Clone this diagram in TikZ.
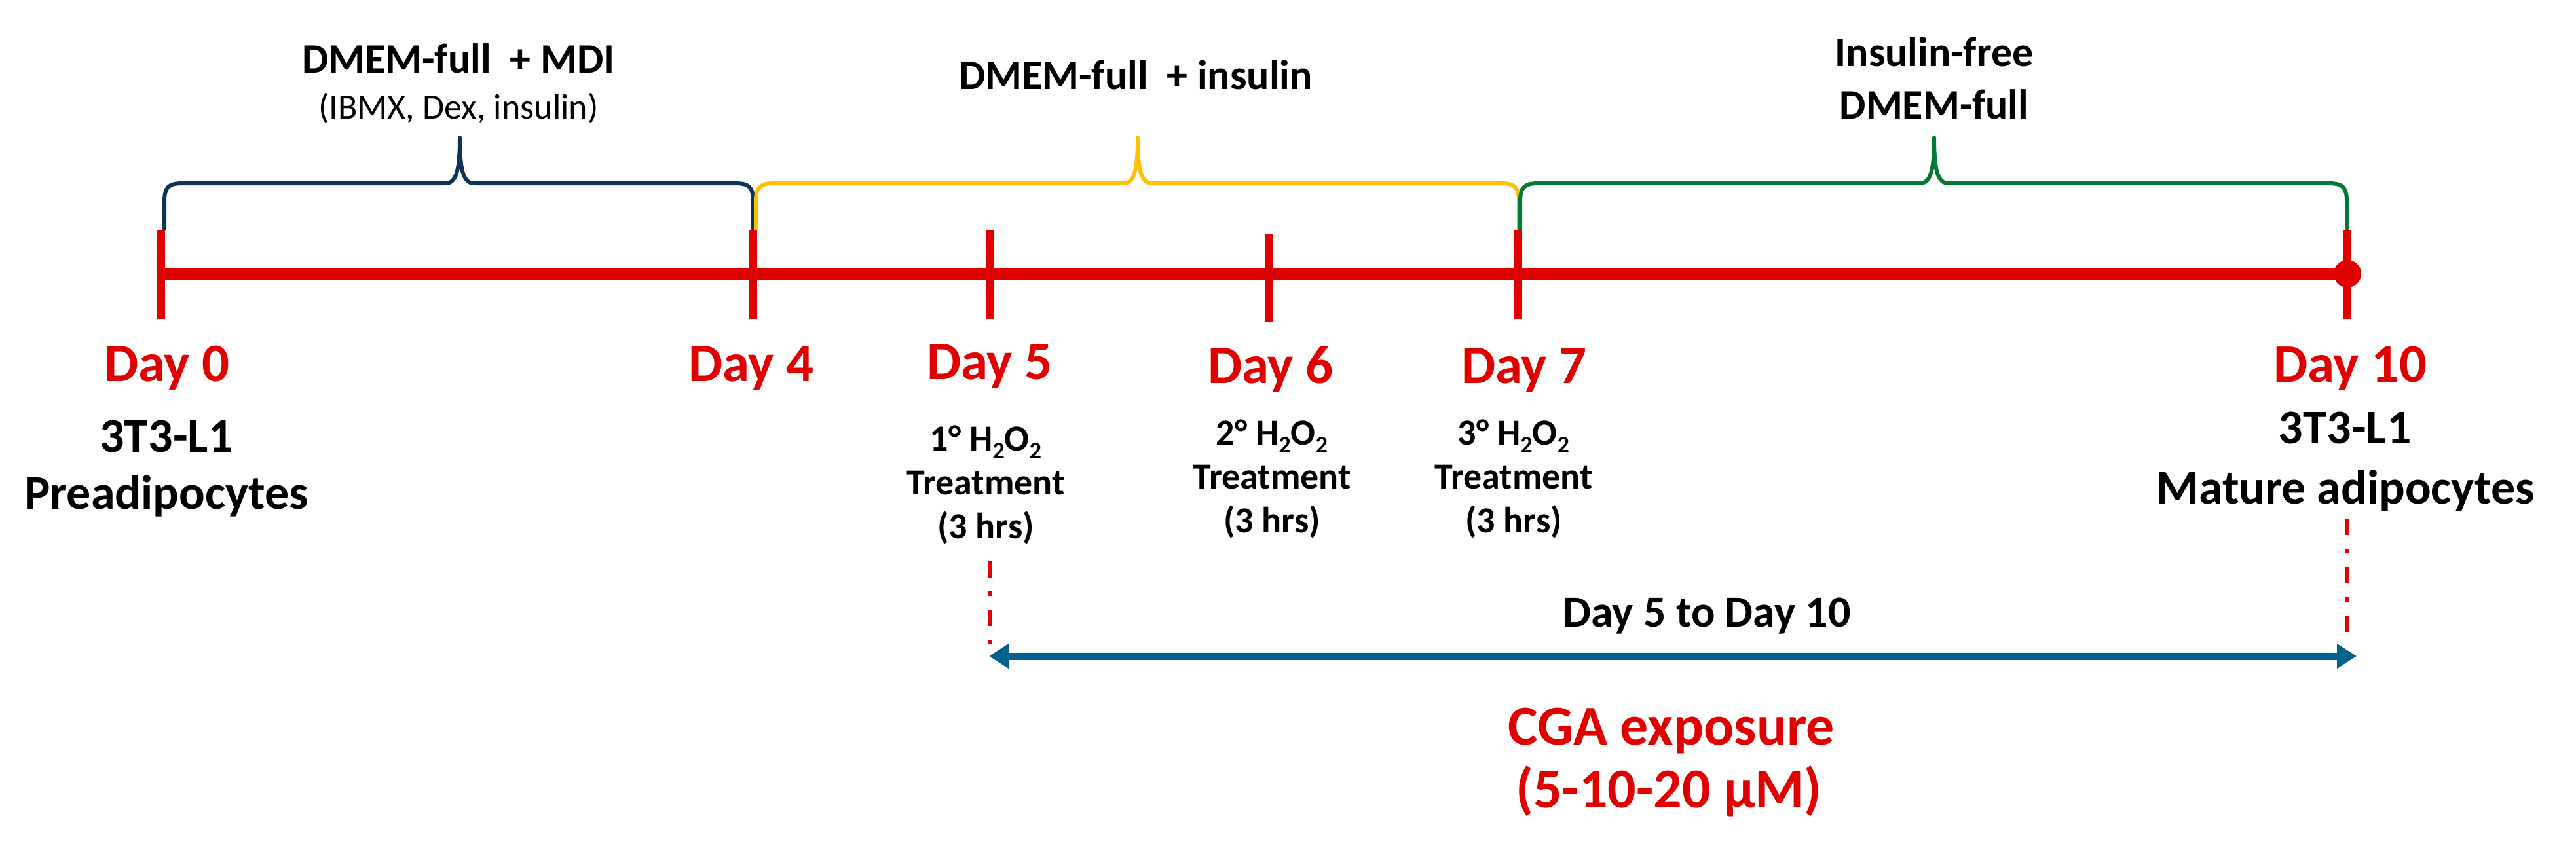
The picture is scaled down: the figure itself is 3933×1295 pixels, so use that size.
\documentclass[tikz,border=0pt]{standalone}
\usepackage{fontspec}
\setmainfont{Carlito}
\usepackage{graphicx}
\usetikzlibrary{arrows.meta}
\definecolor{cgared}{RGB}{224,0,0}
\definecolor{navyb}{RGB}{12,52,86}
\definecolor{goldb}{RGB}{255,192,0}
\definecolor{greenb}{RGB}{0,122,52}
\definecolor{tealb}{RGB}{0,98,138}
\newcommand{\lowtwo}{\raisebox{-0.22em}{\scalebox{0.65}{2}}}
\newcommand{\fs}[1]{\fontsize{#1pt}{#1pt}\selectfont}
\newcommand{\mybrace}[4]{%
  \draw[bracebase,#4] (#1,350) -- (#1,308) .. controls (#1,286) and (#1+6,280) .. (#1+28,280)
    -- (#2-22,280) .. controls (#2-6,280) and (#2,262) .. (#2,210)
    .. controls (#2,262) and (#2+6,280) .. (#2+22,280)
    -- (#3-28,280) .. controls (#3-6,280) and (#3,286) .. (#3,308) -- (#3,350);}
\tikzset{
  txt/.style={anchor=base, inner sep=0pt, outer sep=0pt},
  medlab/.style={txt, font=\bfseries\fs{64}},
  medsub/.style={txt, font=\fs{54}},
  daylab/.style={txt, font=\bfseries\fs{83}, text=cgared},
  celllab/.style={txt, font=\bfseries\fs{74}},
  treat/.style={txt, font=\bfseries\fs{56}},
  spanlab/.style={txt, font=\bfseries\fs{68}},
  cgalab/.style={txt, font=\bfseries\fs{86}, text=cgared},
  timeline/.style={draw=cgared, line width=17pt},
  daytick/.style={draw=cgared, line width=12pt},
  bracebase/.style={line width=6pt, line cap=round, line join=round},
  guide/.style={draw=cgared, line width=6pt, dash pattern=on 25pt off 21pt on 7pt off 21pt},
  cgaarrow/.style={draw=tealb, line width=11pt, {Triangle[length=30pt,width=36pt]}-{Triangle[length=30pt,width=36pt]}},
}
\begin{document}
\begin{tikzpicture}[x=1pt,y=-1pt]
\useasboundingbox (0,0) rectangle (3933,1295);

% braces
\mybrace{251}{702}{1150}{draw=navyb}
\mybrace{1154}{1737}{2319}{draw=goldb}
\mybrace{2321}{2953}{3583}{draw=greenb}

% medium labels
\node[medlab] (m1) at (700,112) {DMEM-full\ \ + MDI};
\node[medsub] (m1b) at (700,182) {(IBMX, Dex, insulin)};
\node[medlab] (m2) at (1734,137) {DMEM-full\ \ + insulin};
\node[medlab] (m3a) at (2953,102) {Insulin-free};
\node[medlab] (m3b) at (2953,182) {DMEM-full};

% timeline
\coordinate (t0) at (246,418);
\coordinate (t4) at (1150,418);
\coordinate (t5) at (1512,418);
\coordinate (t6) at (1937,418);
\coordinate (t7) at (2318,418);
\coordinate (t10) at (3584,418);
\draw[timeline] (t0) -- (t10);
\foreach \p in {t0,t4,t5,t7,t10}{
  \draw[daytick] ([yshift=66pt]\p) -- ([yshift=-69pt]\p);
}
\draw[daytick] ([yshift=61pt]t6) -- ([yshift=-73pt]t6);
\fill[cgared] (t10) circle (21pt);

% day labels
\node[daylab] (d0) at (255,582) {Day 0};
\node[daylab] (d4) at (1147,582) {Day 4};
\node[daylab] (d5) at (1511,579) {Day 5};
\node[daylab] (d6) at (1940,585) {Day 6};
\node[daylab] (d7) at (2327,585) {Day 7};
\node[daylab] (d10) at (3588,583) {Day 10};

% cell labels
\node[celllab] (c0a) at (254,690) {3T3-L1};
\node[celllab] (c0b) at (254,777) {Preadipocytes};
\node[celllab] (c10a) at (3580,677) {3T3-L1};
\node[celllab] (c10b) at (3581,769) {Mature adipocytes};

% treatments
\node[treat] (h5a) at (1505,688) {1° H\lowtwo O\lowtwo};
\node[treat] (h5b) at (1505,755) {Treatment};
\node[treat] (h5c) at (1505,822) {(3 hrs)};
\node[treat] (h6a) at (1942,679) {2° H\lowtwo O\lowtwo};
\node[treat] (h6b) at (1942,746) {Treatment};
\node[treat] (h6c) at (1942,813) {(3 hrs)};
\node[treat] (h7a) at (2311,679) {3° H\lowtwo O\lowtwo};
\node[treat] (h7b) at (2311,746) {Treatment};
\node[treat] (h7c) at (2311,813) {(3 hrs)};

% guides and exposure arrow
\coordinate (g5top) at (1512,857);
\coordinate (g5bot) at (1512,985);
\coordinate (g10top) at (3584,792);
\coordinate (g10bot) at (3584,985);
\draw[guide] (g5top) -- (g5bot);
\draw[guide] (g10top) -- (g10bot);
\coordinate (a5) at (1510,1002);
\coordinate (a10) at (3598,1002);
\draw[cgaarrow] (a5) -- (a10);

\node[spanlab] (span) at (2606,957) {Day 5 to Day 10};
\node[cgalab] (cga1) at (2552,1137) {CGA exposure};
\node[cgalab] (cga2) at (2548,1233) {(5-10-20 µM)};
\end{tikzpicture}
\end{document}
